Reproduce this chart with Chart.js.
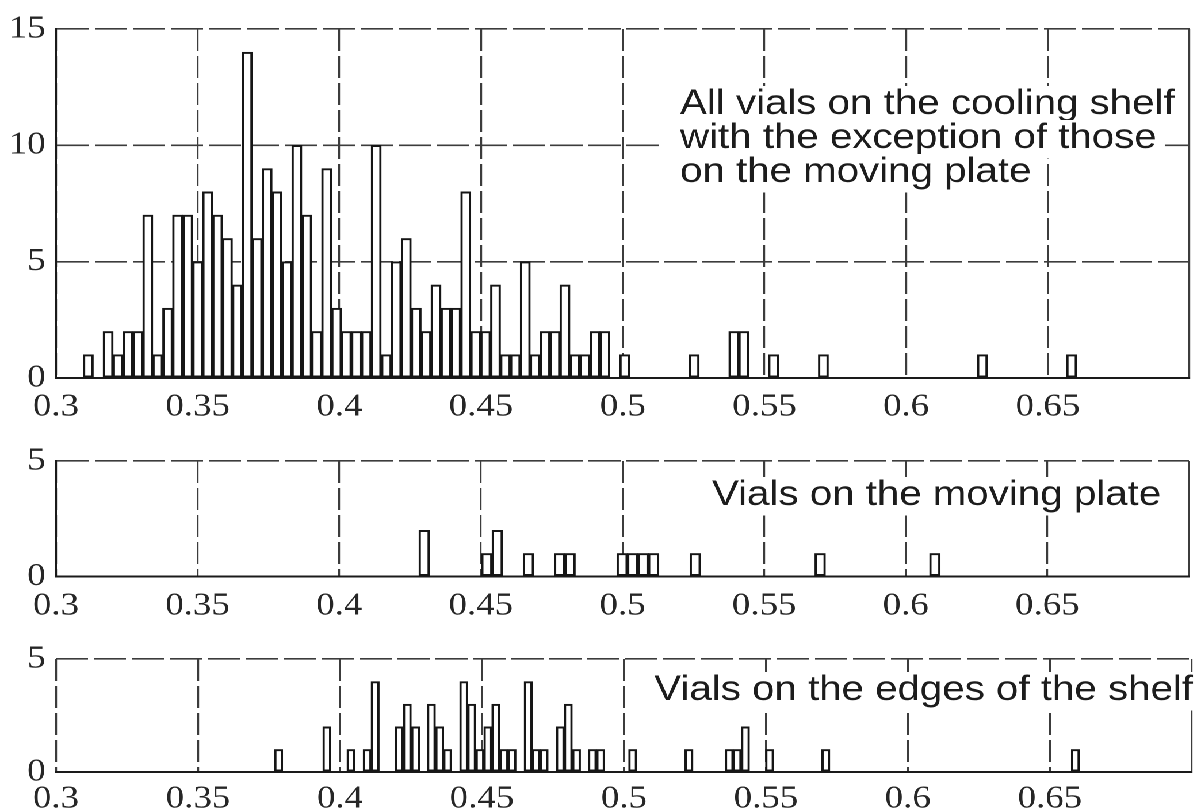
<!DOCTYPE html>
<html>
<head>
<meta charset="utf-8">
<script src="https://cdn.jsdelivr.net/npm/chart.js@4.4.1/dist/chart.umd.min.js"></script>
<style>
  html, body { margin: 0; padding: 0; background: #ffffff; overflow: hidden; }
  #wrap { position: absolute; left: 0; top: 0; width: 1044px; height: 812px;
          transform: scaleX(1.1504); transform-origin: 0 0; }
  canvas { position: absolute; left: 0; }
</style>
</head>
<body>
<div id="wrap">
  <canvas id="c1" width="1044" height="430" style="top:0px;width:1044px;height:430px"></canvas>
  <canvas id="c2" width="1044" height="195" style="top:430px;width:1044px;height:195px"></canvas>
  <canvas id="c3" width="1044" height="187" style="top:625px;width:1044px;height:187px"></canvas>
</div>
<script>
// ---------------- data ----------------
const xTickValues = [0.3, 0.35, 0.4, 0.45, 0.5, 0.55, 0.6, 0.65, 0.7];
const xTickLabels = ['0.3', '0.35', '0.4', '0.45', '0.5', '0.55', '0.6', '0.65'];
const shelfYTicks = [0, 5, 10, 15];
const smallYTicks = [0, 5];

// Panel 1: all vials on the cooling shelf except the moving plate (bin centres, counts)
const shelfBinWidth = 0.003505;
const shelfCenters = [0.3114, 0.3184, 0.3219, 0.3254, 0.3289, 0.3324, 0.3359, 0.3394, 0.3429, 0.3465,
                      0.3500, 0.3535, 0.3570, 0.3605, 0.3640, 0.3675, 0.3710, 0.3745, 0.3780, 0.3815,
                      0.3850, 0.3885, 0.3920, 0.3955, 0.3990, 0.4025, 0.4060, 0.4095, 0.4130, 0.4166,
                      0.4201, 0.4236, 0.4271, 0.4306, 0.4341, 0.4376, 0.4411, 0.4446, 0.4481, 0.4516,
                      0.4551, 0.4586, 0.4621, 0.4656, 0.4691, 0.4726, 0.4761, 0.4796, 0.4831, 0.4867,
                      0.4902, 0.4937, 0.5007, 0.5252, 0.5392, 0.5427, 0.5532, 0.5708, 0.6269, 0.6584];
const shelfCounts  = [1, 2, 1, 2, 2, 7, 1, 3, 7, 7,
                      5, 8, 7, 6, 4, 14, 6, 9, 8, 5,
                      10, 7, 2, 9, 3, 2, 2, 2, 10, 1,
                      5, 6, 3, 2, 4, 3, 3, 8, 2, 2,
                      4, 1, 1, 5, 1, 2, 2, 4, 1, 1,
                      2, 2, 1, 1, 2, 2, 1, 1, 1, 1];

// Panel 2: vials on the moving plate
const plateBinWidth = 0.00368;
const plateCenters = [0.4300, 0.4521, 0.4558, 0.4668, 0.4778, 0.4815, 0.4999, 0.5036, 0.5073, 0.5110,
                      0.5257, 0.5698, 0.6103];
const plateCounts  = [2, 1, 2, 1, 1, 1, 1, 1, 1, 1,
                      1, 1, 1];

// Panel 3: vials on the edges of the shelf
const edgeBinWidth = 0.002834;
const edgeCenters = [0.3784, 0.3954, 0.4039, 0.4096, 0.4124, 0.4209, 0.4237, 0.4266, 0.4322, 0.4351,
                     0.4379, 0.4436, 0.4464, 0.4493, 0.4521, 0.4549, 0.4578, 0.4606, 0.4663, 0.4691,
                     0.4719, 0.4776, 0.4804, 0.4833, 0.4889, 0.4918, 0.5031, 0.5229, 0.5371, 0.5399,
                     0.5428, 0.5513, 0.5711, 0.6590];
const edgeCounts  = [1, 2, 1, 1, 4, 2, 3, 2, 3, 2,
                     1, 4, 3, 1, 2, 3, 1, 1, 4, 1,
                     1, 2, 3, 1, 1, 1, 1, 1, 1, 1,
                     2, 1, 1, 1];

const shelfNote = ['All vials on the cooling shelf', 'with the exception of those', 'on the moving plate'];
const plateNote = ['Vials on the moving plate'];
const edgeNote  = ['Vials on the edges of the shelf'];

// ---------------- layout ----------------
const S = 1.1504;                 // horizontal stretch of the whole figure
const CANVAS_W = 1044;
const AXIS_W = 56 / S;            // y-axis box width (unscaled px)
const RIGHT_PAD = 1;
const PX_PER_UNIT = (CANVAS_W - RIGHT_PAD - AXIS_W) / 0.4;

const TICK_FONT = { family: '"Liberation Serif", "Times New Roman", serif', size: 32 };
const TICK_COLOR = '#262626';
const GRID_COLOR = '#3c3c3c';

const notesPlugin = {
  id: 'notes',
  afterDatasetsDraw(chart, args, o) {
    if (!o || !o.lines) return;
    const ctx = chart.ctx;
    ctx.save();
    ctx.font = o.size + 'px "Liberation Sans", Arial, sans-serif';
    ctx.textBaseline = 'alphabetic';
    o.lines.forEach((t, i) => {
      const w = ctx.measureText(t).width;
      const x = o.align === 'right' ? o.x - w : o.x;
      const y = o.y + i * o.lh;
      ctx.fillStyle = '#ffffff';
      ctx.fillRect(x - 20 / S, y - o.size * 0.8, w + 28 / S, o.size * 1.1);
      ctx.fillStyle = '#1c1c1c';
      ctx.fillText(t, x, y);
    });
    ctx.restore();
  }
};

function makeChart(id, p) {
  const pts = p.centers.map((c, i) => ({ x: c, y: p.counts[i] }));
  return new Chart(document.getElementById(id), {
    type: 'bar',
    data: {
      datasets: [{
        data: pts,
        backgroundColor: '#ffffff',
        borderColor: '#151515',
        borderWidth: 2,
        borderSkipped: false,
        barThickness: p.binWidth * PX_PER_UNIT
      }]
    },
    options: {
      responsive: false,
      animation: false,
      devicePixelRatio: 2,
      layout: { padding: { top: p.padTop, right: RIGHT_PAD, bottom: 0, left: 0 } },
      plugins: {
        legend: { display: false },
        tooltip: { enabled: false },
        notes: p.notes
      },
      scales: {
        x: {
          type: 'linear',
          min: 0.3, max: 0.7,
          offset: false,
          afterBuildTicks: s => { s.ticks = xTickValues.map(v => ({ value: v })); },
          afterFit: s => { s.height = p.xHeight; },
          ticks: {
            autoSkip: false, maxRotation: 0, minRotation: 0,
            padding: p.xPad, color: TICK_COLOR, font: TICK_FONT,
            callback: (v, i) => (i < xTickLabels.length ? xTickLabels[i] : '')
          },
          grid: { color: GRID_COLOR, lineWidth: 1.6, drawTicks: false, offset: false },
          border: {
            display: true, color: '#1a1a1a', width: 2,
            dash: c => (c.tick && c.tick.value > 0.699) ? [] : [22, 5]
          }
        },
        y: {
          min: 0, max: p.yMax,
          afterBuildTicks: s => { s.ticks = p.yTicks.map(v => ({ value: v })); },
          afterFit: s => { s.width = AXIS_W; },
          ticks: { padding: 9, color: TICK_COLOR, font: TICK_FONT, callback: v => String(v) },
          grid: { color: GRID_COLOR, lineWidth: 1.6, drawTicks: false },
          border: { display: p.leftSolid, color: '#1a1a1a', width: 2, dash: [28, 5] }
        }
      }
    },
    plugins: [notesPlugin]
  });
}

makeChart('c1', {
  centers: shelfCenters, counts: shelfCounts, binWidth: shelfBinWidth,
  padTop: 29, xHeight: 52, xPad: 10, yMax: 15, yTicks: shelfYTicks, leftSolid: true,
  notes: { lines: shelfNote, x: 680 / S, y: 114, lh: 34, size: 35, align: 'left' }
});
makeChart('c2', {
  centers: plateCenters, counts: plateCounts, binWidth: plateBinWidth,
  padTop: 31, xHeight: 48.5, xPad: 10.5, yMax: 5, yTicks: smallYTicks, leftSolid: true,
  notes: { lines: plateNote, x: 712 / S, y: 505 - 430, lh: 34, size: 35, align: 'left' }
});
makeChart('c3', {
  centers: edgeCenters, counts: edgeCounts, binWidth: edgeBinWidth,
  padTop: 34, xHeight: 40, xPad: 8, yMax: 5, yTicks: smallYTicks, leftSolid: false,
  notes: { lines: edgeNote, x: 1193 / S, y: 700 - 625, lh: 34, size: 35, align: 'right' }
});
</script>
</body>
</html>
